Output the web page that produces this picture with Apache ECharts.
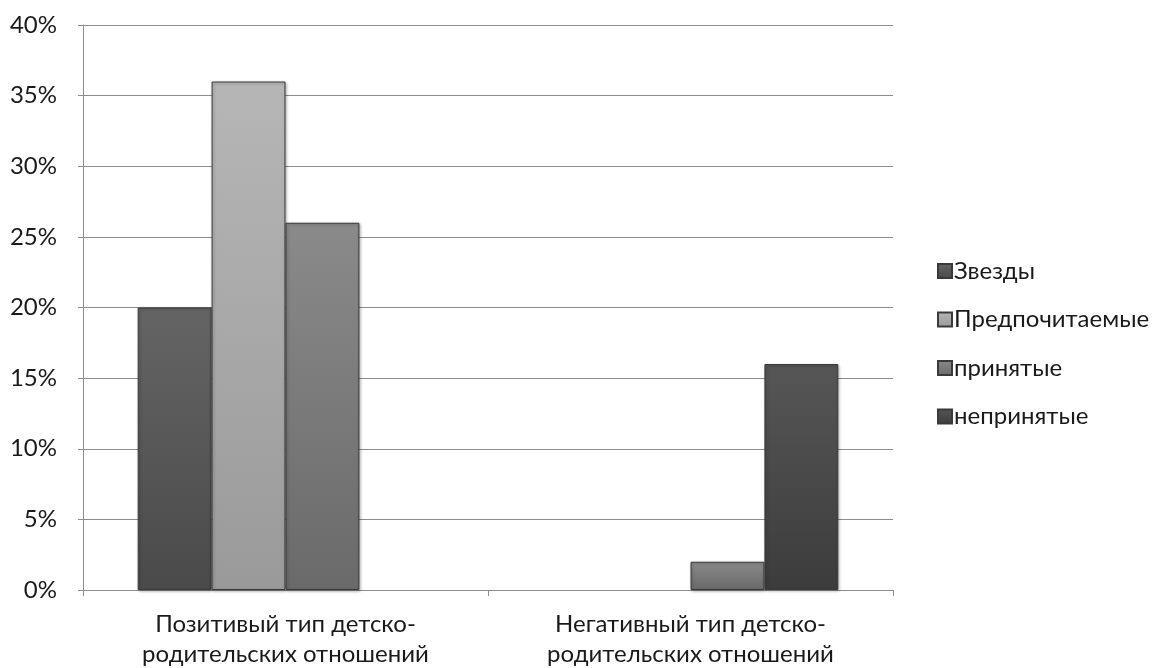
<!DOCTYPE html>
<html><head><meta charset="utf-8">
<script src="https://cdn.jsdelivr.net/npm/echarts@6/dist/echarts.min.js"></script>
<style>html,body{margin:0;padding:0;background:#fff}#c{width:1158px;height:668px}</style>
</head><body><div id="c"></div>
<script>
const categories = ['Позитивый тип детско-\nродительских отношений', 'Негативный тип детско-\nродительских отношений'];
const seriesNames = ['Звезды', 'Предпочитаемые', 'принятые', 'непринятые'];
const zvezdy = [20, 0];
const predpochitaemye = [36, 0];
const prinyatye = [26, 2];
const neprinyatye = [0, 16];
const yTicks = [0, 5, 10, 15, 20, 25, 30, 35, 40];

const values = [zvezdy, predpochitaemye, prinyatye, neprinyatye];
const colorStops = [
  ['#646464', '#4a4a4a'],
  ['#b6b6b6', '#9a9a9a'],
  ['#8a8a8a', '#6a6a6a'],
  ['#565656', '#3c3c3c']
];
const font = 'Lato, sans-serif';

const chart = echarts.init(document.getElementById('c'));
chart.setOption({
  animation: false,
  textStyle: { fontFamily: font },
  grid: { left: 83, right: 265, top: 25, bottom: 78, containLabel: false, outerBoundsMode: 'none' },
  legend: {
    orient: 'vertical', left: 932, top: 254, itemGap: 24.5,
    itemWidth: 14, itemHeight: 14, icon: 'rect',
    textStyle: { fontSize: 24, lineHeight: 24, color: '#1a1a1a', fontFamily: font, padding: [0, 0, 0, -3] },
    data: seriesNames
  },
  xAxis: {
    type: 'category', data: categories,
    axisLine: { lineStyle: { color: '#8c8c8c', width: 1 } },
    axisTick: { show: true, length: 6, lineStyle: { color: '#8c8c8c' } },
    axisLabel: { fontSize: 24, color: '#1a1a1a', lineHeight: 30, margin: 19, fontFamily: font }
  },
  yAxis: {
    type: 'value', min: 0, max: 40, interval: 5,
    axisLine: { show: true, lineStyle: { color: '#8c8c8c' } },
    axisTick: { show: true, length: 5, lineStyle: { color: '#8c8c8c' } },
    axisLabel: { fontSize: 24, color: '#1a1a1a', margin: 26, fontFamily: font,
      formatter: v => yTicks.includes(v) ? v + '%' : '' },
    splitLine: { lineStyle: { color: '#8c8c8c', width: 1 } }
  },
  series: seriesNames.map((name, i) => ({
    name, type: 'bar',
    data: values[i].map(v => v === 0 ? { value: v, itemStyle: { borderWidth: 0, opacity: 0 } } : v),
    barGap: 0, barCategoryGap: '27%',
    itemStyle: {
      color: new echarts.graphic.LinearGradient(0, 0, 0, 1, [
        { offset: 0, color: colorStops[i][0] },
        { offset: 1, color: colorStops[i][1] }
      ]),
      borderColor: '#3a3a3a', borderWidth: 1,
      shadowBlur: 3, shadowColor: 'rgba(0,0,0,0.3)', shadowOffsetX: 1, shadowOffsetY: 1
    }
  }))
});
</script></body></html>
